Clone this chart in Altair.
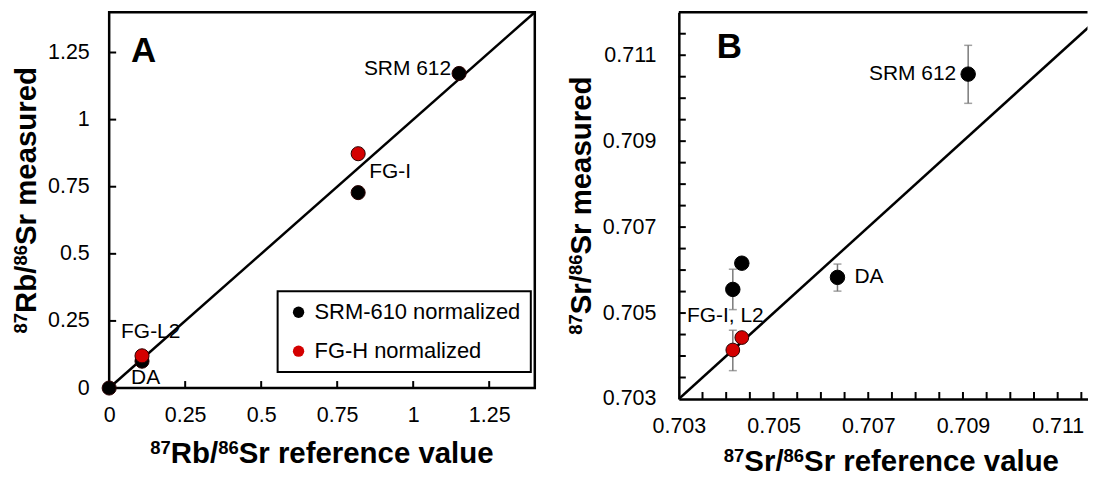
import altair as alt
import pandas as pd

FONT = "Liberation Sans"

# ---------------- Panel A data ----------------
a_series = ["SRM-610 normalized", "SRM-610 normalized", "SRM-610 normalized",
            "SRM-610 normalized", "FG-H normalized", "FG-H normalized"]
a_ref = [0.0, 0.108, 0.819, 1.151, 0.108, 0.819]
a_meas = [0.0, 0.100, 0.728, 1.172, 0.120, 0.873]
a_ticks = [0, 0.25, 0.5, 0.75, 1, 1.25]
a_domain = [0, 1.4]
a_diag = [0, 1.4]
a_labels = ["SRM 612", "FG-I", "FG-L2", "DA"]
a_label_x = [1.151, 0.819, 0.108, 0.108]
a_label_y = [1.172, 0.873, 0.120, 0.100]
a_xtitle = ["87", "Rb/", "86", "Sr reference value"]
a_ytitle = ["87", "Rb/", "86", "Sr measured"]

# ---------------- Panel B data ----------------
b_black_ref = [0.70911, 0.70635, 0.70414, 0.70433]
b_black_meas = [0.71056, 0.70583, 0.70555, 0.70616]
b_red_ref = [0.70414, 0.70433]
b_red_meas = [0.70414, 0.70443]
b_err_ref = [0.70911, 0.70635, 0.70414, 0.70414]
b_err_lo = [0.70988, 0.70551, 0.70508, 0.70366]
b_err_hi = [0.71123, 0.70614, 0.70602, 0.70460]
b_tick_labels = [0.703, 0.705, 0.707, 0.709, 0.711]
b_minor_ticks = [0.7035, 0.704, 0.7045, 0.705, 0.7055, 0.706, 0.7065, 0.707,
                 0.7075, 0.708, 0.7085, 0.709, 0.7095, 0.710, 0.7105, 0.711, 0.7115]
b_diag = [0.703, 0.712]
b_x_domain = [0.703, 0.71163]
b_y_domain = [0.703, 0.712]
b_top = [0.712]
b_labels = ["SRM 612", "DA", "FG-I, L2"]
b_label_x = [0.70911, 0.70635, 0.70414]
b_label_y = [0.71056, 0.70583, 0.70414]
b_xtitle = ["87", "Sr/", "86", "Sr reference value"]
b_ytitle = ["87", "Sr/", "86", "Sr measured"]
title_sup = [True, False, True, False]

series_domain = ["SRM-610 normalized", "FG-H normalized"]
series_colors = ["#000000", "#d40000"]

WA, HA = 427, 377
WB, HB = 410, 388
MAIN_FS, SUP_FS, RAISE = 29.5, 18.5, 9

# Liberation Sans Bold advance widths (per em)
BOLD_W = {"0": .556, "1": .556, "2": .556, "3": .556, "4": .556, "5": .556, "6": .556,
          "7": .556, "8": .556, "9": .556, "R": .722, "S": .667, "b": .611, "/": .278,
          "r": .389, " ": .278, "e": .556, "f": .333, "n": .611, "c": .556, "v": .556,
          "a": .556, "l": .278, "u": .611, "m": .889, "s": .556, "d": .611}


def text_w(s, fs):
    return sum(BOLD_W.get(ch, .6) for ch in s) * fs


def title_pieces(parts, horizontal, center, base):
    widths = [text_w(p, SUP_FS if s else MAIN_FS) for p, s in zip(parts, title_sup)]
    total = sum(widths)
    pos = center - total / 2 if horizontal else center + total / 2
    out = []
    for p, s, w in zip(parts, title_sup, widths):
        fs = SUP_FS if s else MAIN_FS
        shift = RAISE if s else 0
        if horizontal:
            x, y, ang = pos, base - shift, 0
            pos += w
        else:
            x, y, ang = base - shift, pos, 270
            pos -= w
        out.append(alt.Chart(pd.DataFrame({"t": [p]})).mark_text(
            font=FONT, fontSize=fs, fontWeight="bold", color="black", align="left",
            baseline="alphabetic", angle=ang).encode(
            x=alt.value(x), y=alt.value(y), text="t:N"))
    return out


axis_common = dict(grid=False, ticks=False, labelFlush=False, labelFont=FONT,
                   labelFontSize=21.5, labelColor="black", title=None)

# ---------------- Panel A ----------------
sxA = alt.Scale(domain=a_domain, nice=False, zero=False, padding=0)
syA = alt.Scale(domain=a_domain, nice=False, zero=False, padding=0)
axA_x = alt.Axis(values=a_ticks, labelExpr="'' + datum.value", labelPadding=17,
                 domain=False, **axis_common)
axA_y = alt.Axis(values=a_ticks, labelExpr="'' + datum.value", labelPadding=20,
                 domain=False, **axis_common)


def XA(f):
    return alt.X(f, scale=sxA, axis=axA_x)


def YA(f):
    return alt.Y(f, scale=syA, axis=axA_y)


diagA = alt.Chart(pd.DataFrame({"x": a_diag, "y": a_diag})).mark_line(
    color="black", strokeWidth=2.5).encode(x=XA("x:Q"), y=YA("y:Q"))

ytA = alt.Chart(pd.DataFrame({"v": a_ticks})).mark_rule(color="black", strokeWidth=2).encode(
    y=YA("v:Q"), x=alt.value(0), x2=alt.value(7))
xtA = alt.Chart(pd.DataFrame({"v": a_ticks})).mark_rule(color="black", strokeWidth=2).encode(
    x=XA("v:Q"), y=alt.value(HA), y2=alt.value(HA - 7))

ptsA = alt.Chart(pd.DataFrame({"series": a_series, "ref": a_ref, "meas": a_meas})).mark_circle(
    size=200, opacity=1, stroke="#2a0000", strokeWidth=1).encode(
    x=XA("ref:Q"), y=YA("meas:Q"),
    color=alt.Color("series:N", scale=alt.Scale(domain=series_domain, range=series_colors),
                    legend=alt.Legend(orient="none", legendX=169, legendY=280, title=None,
                                      labelFont=FONT, labelFontSize=22, labelColor="black",
                                      labelLimit=400,
                                      symbolType="circle", symbolSize=130, symbolOpacity=1,
                                      symbolStrokeWidth=0, padding=10, rowPadding=17,
                                      labelOffset=5, strokeColor="black",
                                      fillColor="white")))

a_lab_df = pd.DataFrame({"t": a_labels, "x": a_label_x, "y": a_label_y})
a_offsets = [(-8, -4, "right"), (11, 18, "left"), (-21, -24, "left"), (-11, 17, "left")]
labsA = []
for i, (dx, dy, al) in enumerate(a_offsets):
    labsA.append(alt.Chart(a_lab_df.iloc[[i]]).mark_text(
        font=FONT, fontSize=21, color="black", align=al, baseline="middle", dx=dx, dy=dy).encode(
        x=XA("x:Q"), y=YA("y:Q"), text="t:N"))

letterA = alt.Chart(pd.DataFrame({"t": ["A"]})).mark_text(
    font=FONT, fontSize=35, fontWeight="bold", color="black", align="left",
    baseline="middle").encode(x=alt.value(22), y=alt.value(39), text="t:N")

titlesA = (title_pieces(a_xtitle, True, WA / 2, HA + 75)
           + title_pieces(a_ytitle, False, HA / 2, -73.8))

panelA = alt.layer(diagA, ytA, xtA, ptsA, *labsA, letterA, *titlesA).properties(
    width=WA, height=HA, view=alt.ViewBackground(stroke="black", strokeWidth=2.5))

# ---------------- Panel B ----------------
sxB = alt.Scale(domain=b_x_domain, nice=False, zero=False, padding=0)
syB = alt.Scale(domain=b_y_domain, nice=False, zero=False, padding=0)
axB_x = alt.Axis(values=b_tick_labels, format=".3f", labelPadding=17, domain=True,
                 domainColor="black", domainWidth=2.5, **axis_common)
axB_y = alt.Axis(values=b_tick_labels, format=".3f", labelPadding=23, domain=True,
                 domainColor="black", domainWidth=2.5, **axis_common)


def XB(f):
    return alt.X(f, scale=sxB, axis=axB_x)


def YB(f):
    return alt.Y(f, scale=syB, axis=axB_y)


topB = alt.Chart(pd.DataFrame({"v": b_top})).mark_rule(color="black", strokeWidth=2.5).encode(
    y=YB("v:Q"), x=alt.value(0), x2=alt.value(WB))
ytB = alt.Chart(pd.DataFrame({"v": b_minor_ticks})).mark_rule(color="black", strokeWidth=2).encode(
    y=YB("v:Q"), x=alt.value(0), x2=alt.value(7))
xtB = alt.Chart(pd.DataFrame({"v": b_minor_ticks})).mark_rule(color="black", strokeWidth=2).encode(
    x=XB("v:Q"), y=alt.value(HB), y2=alt.value(HB - 7))

diagB = alt.Chart(pd.DataFrame({"x": b_diag, "y": b_diag})).mark_line(
    color="black", strokeWidth=2.5, clip=True).encode(x=XB("x:Q"), y=YB("y:Q"))

err_df = pd.DataFrame({"x": b_err_ref, "lo": b_err_lo, "hi": b_err_hi})
errB = alt.Chart(err_df).mark_rule(color="#7a7a7a", strokeWidth=1.5).encode(
    x=XB("x:Q"), y=YB("lo:Q"), y2="hi:Q")
capLo = alt.Chart(err_df).mark_tick(color="#7a7a7a", orient="horizontal", size=8, thickness=1.5).encode(
    x=XB("x:Q"), y=YB("lo:Q"))
capHi = alt.Chart(err_df).mark_tick(color="#7a7a7a", orient="horizontal", size=8, thickness=1.5).encode(
    x=XB("x:Q"), y=YB("hi:Q"))

blackB = alt.Chart(pd.DataFrame({"x": b_black_ref, "y": b_black_meas})).mark_circle(
    size=210, opacity=1, color=series_colors[0], stroke="#000000", strokeWidth=1).encode(
    x=XB("x:Q"), y=YB("y:Q"))
redB = alt.Chart(pd.DataFrame({"x": b_red_ref, "y": b_red_meas})).mark_circle(
    size=190, opacity=1, color=series_colors[1], stroke="#2a0000", strokeWidth=1).encode(
    x=XB("x:Q"), y=YB("y:Q"))

b_lab_df = pd.DataFrame({"t": b_labels, "x": b_label_x, "y": b_label_y})
b_offsets = [(-12, 0, "right"), (17, 0, "left"), (-46, -34, "left")]
labsB = []
for i, (dx, dy, al) in enumerate(b_offsets):
    labsB.append(alt.Chart(b_lab_df.iloc[[i]]).mark_text(
        font=FONT, fontSize=21, color="black", align=al, baseline="middle", dx=dx, dy=dy).encode(
        x=XB("x:Q"), y=YB("y:Q"), text="t:N"))

letterB = alt.Chart(pd.DataFrame({"t": ["B"]})).mark_text(
    font=FONT, fontSize=35, fontWeight="bold", color="black", align="left",
    baseline="middle").encode(x=alt.value(38), y=alt.value(35), text="t:N")

titlesB = (title_pieces(b_xtitle, True, 213.3, HB + 72.5)
           + title_pieces(b_ytitle, False, HB / 2, -88.4))

panelB = alt.layer(diagB, topB, ytB, xtB, errB, capLo, capHi, blackB, redB, *labsB, letterB,
                   *titlesB).properties(
    width=WB, height=HB, view=alt.ViewBackground(stroke="transparent", strokeWidth=0))

chart = alt.hconcat(panelA, panelB, spacing=24.5).resolve_scale(
    color="independent").properties(
    padding={"left": 1.5, "top": -3.5, "right": 0, "bottom": 0},
    background="white").configure_legend(strokeWidth=2)

chart.save("out.html", embed_options={"renderer": "svg", "actions": False})
